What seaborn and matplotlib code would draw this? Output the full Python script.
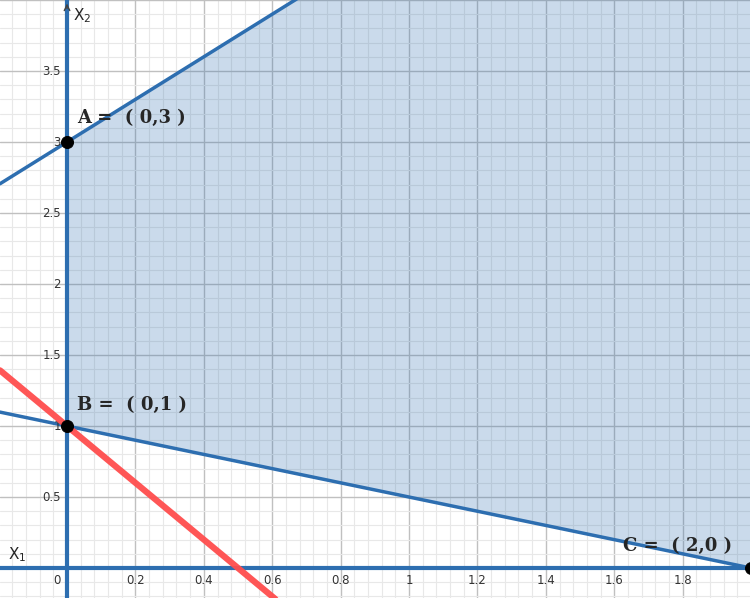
import numpy as np
import matplotlib
matplotlib.use("Agg")
import matplotlib.pyplot as plt
import seaborn as sns

# ---------------------------
# data
# ---------------------------
# constraint lines a*x1 + b*x2 = c
line_a = [-1.5, 1.0]
line_b = [1.0, 2.0]
line_c = [3.0, 2.0]
# objective line (red)
obj_a, obj_b, obj_c = 2.0, 1.0, 1.0

point_names = ["A", "B", "C"]
point_x = [0, 0, 2]
point_y = [3, 1, 0]

x_ticks = [0.2, 0.4, 0.6, 0.8, 1.0, 1.2, 1.4, 1.6, 1.8]
x_tick_labels = ["0.2", "0.4", "0.6", "0.8", "1", "1.2", "1.4", "1.6", "1.8"]
y_ticks = [0.5, 1.0, 1.5, 2.0, 2.5, 3.0, 3.5]
y_tick_labels = ["0.5", "1", "1.5", "2", "2.5", "3", "3.5"]

xmin, xmax = -0.196, 1.997
ymin, ymax = -0.211, 4.0

blue = "#2d6eb0"
red = "#ff4d4d"

# ---------------------------
# figure
# ---------------------------
sns.set_style("white")
fig = plt.figure(figsize=(7.5, 5.98), dpi=100)
ax = fig.add_axes([0, 0, 1, 1])
for s in ax.spines.values():
    s.set_visible(False)

# grid
ax.set_xticks(np.arange(-0.2, 2.01, 0.2))
ax.set_xticks(np.arange(-0.2, 2.01, 0.04), minor=True)
ax.set_yticks(np.arange(-0.5, 4.01, 0.5))
ax.set_yticks(np.arange(-0.5, 4.01, 0.1), minor=True)
ax.grid(which="major", color="#c0c0c0", lw=1.0)
ax.grid(which="minor", color="#e8e8e8", lw=0.8)
ax.tick_params(which="both", length=0, labelbottom=False, labelleft=False)
ax.set_axisbelow(True)

# feasible region
xs = np.linspace(0, 2, 400)
upper = (line_c[0] - line_a[0] * xs) / line_b[0]
lower = np.maximum((line_c[1] - line_a[1] * xs) / line_b[1], 0)
ax.fill_between(xs, lower, upper, color=blue, alpha=0.25, lw=0, zorder=2)

# constraint lines
xl = np.linspace(xmin, xmax, 50)
for a, b, c in zip(line_a, line_b, line_c):
    sns.lineplot(x=xl, y=(c - a * xl) / b, color=blue, lw=2.5, ax=ax, zorder=3)

# axes x1 = 0, x2 = 0
ax.axhline(0, color=blue, lw=3, zorder=3)
ax.axvline(0, color=blue, lw=3, zorder=3)

# objective line
sns.lineplot(x=xl, y=(obj_c - obj_a * xl) / obj_b, color=red, lw=4.5,
             alpha=0.95, ax=ax, zorder=4)

# points
sns.scatterplot(x=point_x, y=point_y, color="black", s=75, edgecolor="black",
                ax=ax, zorder=6, clip_on=False)

ax.set_xlim(xmin, xmax)
ax.set_ylim(ymin, ymax)

ax.annotate("", xy=(0, ymax - 0.005), xytext=(0, ymax - 0.08),
            arrowprops=dict(arrowstyle="->", color="#444444", lw=1.0), zorder=4)

# point labels
label_pos = [(0.03, 3.17), (0.03, 1.15), (1.625, 0.155)]
for name, px, py, (lx, ly) in zip(point_names, point_x, point_y, label_pos):
    ax.text(lx, ly, "%s =  ( %d,%d )" % (name, px, py), fontfamily="DejaVu Serif",
            fontweight="bold", fontsize=13, va="center", ha="left", zorder=7)

# tick labels
for t, lab in zip(x_ticks, x_tick_labels):
    ax.text(t, -0.085, lab, ha="center", va="center", fontsize=8.5, color="#333333")
ax.text(-0.03, -0.085, "0", ha="center", va="center", fontsize=8.5, color="#333333")
for t, lab in zip(y_ticks, y_tick_labels):
    ax.text(-0.018, t, lab, ha="right", va="center", fontsize=8.5, color="#333333")

# axis names
ax.text(0.018, 3.89, "X$_2$", fontsize=11, va="center", ha="left")
ax.text(-0.172, 0.095, "X$_1$", fontsize=11, va="center", ha="left")

fig.savefig("out.png", dpi=100)
